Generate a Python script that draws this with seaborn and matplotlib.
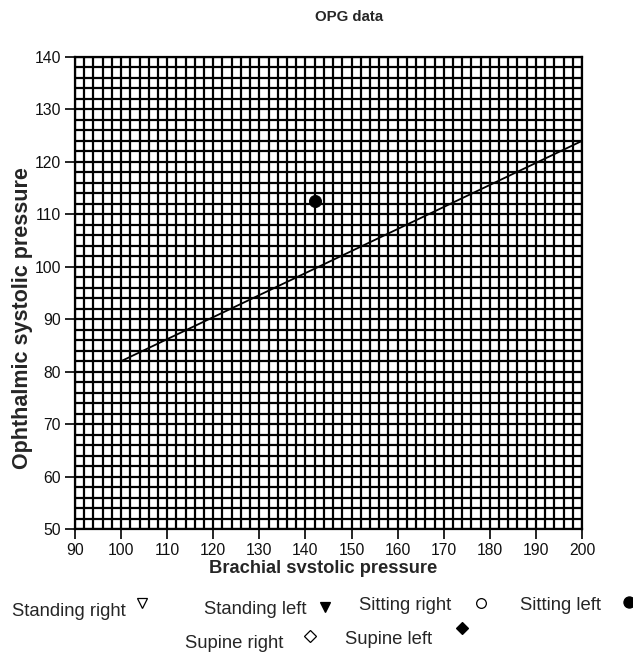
import matplotlib
matplotlib.use("Agg")
import matplotlib.pyplot as plt
from matplotlib.ticker import MultipleLocator
from matplotlib.lines import Line2D
import seaborn as sns
import pandas as pd

# ---- data ----
line_brachial = [100, 200]
line_ophthalmic = [82, 124]
point_brachial = [142]
point_ophthalmic = [112.5]
x_ticks = [90, 100, 110, 120, 130, 140, 150, 160, 170, 180, 190, 200]
y_ticks = [50, 60, 70, 80, 90, 100, 110, 120, 130, 140]
legend_labels = ["Standing right", "Standing left", "Sitting right", "Sitting left",
                 "Supine right", "Supine left"]

sns.set_theme(style="white")
plt.rcParams['font.family'] = ['Liberation Sans', 'DejaVu Sans']

fig = plt.figure(figsize=(6.33, 6.59), dpi=100)
W, H = 633, 659
ax = fig.add_axes([75 / W, 1 - 529 / H, (582 - 75) / W, (529 - 57) / H])

line_df = pd.DataFrame({"x": line_brachial, "y": line_ophthalmic})
pt_df = pd.DataFrame({"x": point_brachial, "y": point_ophthalmic})
sns.lineplot(data=line_df, x="x", y="y", ax=ax, color="black", linewidth=1.3, zorder=3)
sns.scatterplot(data=pt_df, x="x", y="y", ax=ax, color="black", marker="o", s=75,
                edgecolor="black", zorder=4)

ax.set_xlim(90, 200)
ax.set_ylim(50, 140)
ax.set_xticks(x_ticks)
ax.set_yticks(y_ticks)
ax.xaxis.set_minor_locator(MultipleLocator(2))
ax.yaxis.set_minor_locator(MultipleLocator(2))
ax.grid(which="both", color="black", linewidth=1.6)
ax.set_axisbelow(True)
ax.tick_params(which="major", direction="out", length=7, width=1.2, color="black",
               labelsize=11.3, labelcolor="#111111", bottom=True, left=True, pad=3)
ax.tick_params(which="minor", length=0)
for s in ax.spines.values():
    s.set_color("black")
    s.set_linewidth(1.6)

ax.set_xlabel("Brachial svstolic pressure", fontsize=13.2, fontweight="bold")
ax.xaxis.set_label_coords((323 - 75) / 507, -(560 - 529) / 472)
ax.set_ylabel("Ophthalmic systolic pressure", fontsize=15.5, fontweight="bold")
ax.yaxis.set_label_coords((33 - 75) / 507, (529 - 318) / 472)
fig.text(349 / W, 1 - 17 / H, "OPG data", ha="center", va="center",
         fontsize=10.8, fontweight="bold")

# legend drawn as free text + markers
text_pos = [(12, 612), (204, 609), (359, 606), (520, 606), (185, 643), (345, 640)]
marker_spec = [("v", "none", 142, 603, 7), ("v", "black", 325, 607, 7),
               ("o", "none", 481, 603, 7), ("o", "black", 629, 602, 8),
               ("D", "none", 310, 636, 6), ("D", "black", 462, 628, 6)]
for lab, (tx, ty) in zip(legend_labels, text_pos):
    fig.text(tx / W, 1 - ty / H, lab, ha="left", va="center", fontsize=13.3)
for m, fc, mx, my, ms in marker_spec:
    fig.add_artist(Line2D([mx / W], [1 - my / H], marker=m, markersize=ms,
                          markerfacecolor=fc, markeredgecolor="black",
                          markeredgewidth=0.9, linestyle="none",
                          transform=fig.transFigure))

fig.savefig("out.png", dpi=100)
